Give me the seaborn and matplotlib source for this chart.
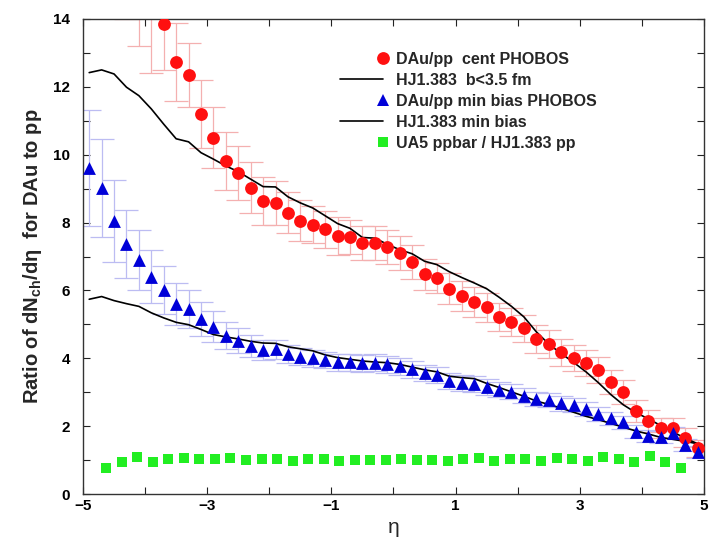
import numpy as np
import pandas as pd
import matplotlib
matplotlib.use("Agg")
import matplotlib.pyplot as plt
import seaborn as sns
from matplotlib.lines import Line2D
from matplotlib.legend_handler import HandlerLine2D

# ---------------- data ----------------
eta = [-4.9, -4.7, -4.5, -4.3, -4.1, -3.9, -3.7, -3.5, -3.3, -3.1,
       -2.9, -2.7, -2.5, -2.3, -2.1, -1.9, -1.7, -1.5, -1.3, -1.1,
       -0.9, -0.7, -0.5, -0.3, -0.1, 0.1, 0.3, 0.5, 0.7, 0.9,
       1.1, 1.3, 1.5, 1.7, 1.9, 2.1, 2.3, 2.5, 2.7, 2.9,
       3.1, 3.3, 3.5, 3.7, 3.9, 4.1, 4.3, 4.5, 4.7, 4.9]

dau_cent = [17.5, 16.9, 16.3, 15.6, 15.0, 14.4, 13.85, 12.73, 12.35, 11.2,
            10.5, 9.81, 9.47, 9.03, 8.64, 8.57, 8.29, 8.06, 7.94, 7.80,
            7.60, 7.57, 7.40, 7.40, 7.28, 7.10, 6.84, 6.47, 6.37, 6.05,
            5.84, 5.66, 5.50, 5.22, 5.07, 4.89, 4.57, 4.42, 4.18, 4.01,
            3.86, 3.65, 3.30, 3.01, 2.45, 2.15, 1.95, 1.94, 1.66, 1.35]
dau_cent_err = [2.5, 2.4, 2.2, 1.6, 1.8, 2.0, 1.35, 1.15, 0.95, 1.0,
                0.9, 0.85, 0.8, 0.75, 0.7, 0.65, 0.6, 0.6, 0.55, 0.55,
                0.55, 0.5, 0.5, 0.5, 0.5, 0.5, 0.5, 0.45, 0.45, 0.45,
                0.45, 0.45, 0.42, 0.42, 0.42, 0.4, 0.4, 0.4, 0.4, 0.38,
                0.38, 0.38, 0.36, 0.35, 0.33, 0.32, 0.3, 0.3, 0.28, 0.25]

dau_mb = [9.61, 9.02, 8.05, 7.37, 6.90, 6.40, 6.01, 5.60, 5.45, 5.16,
          4.93, 4.66, 4.52, 4.36, 4.24, 4.27, 4.13, 4.05, 4.00, 3.95,
          3.89, 3.89, 3.86, 3.87, 3.83, 3.77, 3.68, 3.56, 3.51, 3.34,
          3.27, 3.24, 3.16, 3.07, 3.02, 2.89, 2.79, 2.77, 2.67, 2.62,
          2.50, 2.36, 2.23, 2.11, 1.83, 1.71, 1.68, 1.80, 1.44, 1.24]
dau_mb_err = [1.7, 1.45, 1.2, 1.0, 0.88, 0.78, 0.7, 0.62, 0.56, 0.5,
              0.45, 0.4, 0.36, 0.33, 0.3, 0.28, 0.27, 0.26, 0.25, 0.25,
              0.25, 0.25, 0.25, 0.25, 0.25, 0.25, 0.25, 0.24, 0.24, 0.24,
              0.23, 0.23, 0.23, 0.22, 0.22, 0.22, 0.21, 0.21, 0.21, 0.2,
              0.2, 0.2, 0.2, 0.2, 0.19, 0.19, 0.19, 0.18, 0.18, 0.18]

hj_cent = [12.42, 12.50, 12.38, 11.99, 11.74, 11.35, 10.90, 10.47, 10.38, 10.06,
           9.87, 9.67, 9.50, 9.28, 9.06, 9.05, 8.76, 8.58, 8.43, 8.20,
           7.97, 7.83, 7.56, 7.54, 7.36, 7.20, 7.08, 6.86, 6.76, 6.55,
           6.38, 6.22, 6.05, 5.80, 5.53, 5.22, 4.78, 4.42, 4.14, 3.88,
           3.60, 3.28, 2.93, 2.63, 2.40, 2.22, 2.02, 1.83, 1.64, 1.48]

hj_mb = [5.74, 5.82, 5.70, 5.61, 5.53, 5.34, 5.19, 5.06, 4.99, 4.85,
         4.70, 4.63, 4.57, 4.50, 4.45, 4.44, 4.34, 4.28, 4.22, 4.10,
         4.02, 3.97, 3.92, 3.89, 3.87, 3.82, 3.74, 3.66, 3.60, 3.47,
         3.43, 3.40, 3.26, 3.14, 3.01, 2.88, 2.74, 2.64, 2.53, 2.41,
         2.29, 2.19, 2.08, 1.97, 1.86, 1.77, 1.67, 1.61, 1.55, 1.48]

eta_ua5 = [-4.625, -4.375, -4.125, -3.875, -3.625, -3.375, -3.125, -2.875,
           -2.625, -2.375, -2.125, -1.875, -1.625, -1.375, -1.125, -0.875,
           -0.625, -0.375, -0.125, 0.125, 0.375, 0.625, 0.875, 1.125,
           1.375, 1.625, 1.875, 2.125, 2.375, 2.625, 2.875, 3.125,
           3.375, 3.625, 3.875, 4.125, 4.375, 4.625]
ua5_ratio = [0.78, 0.95, 1.10, 0.95, 1.03, 1.07, 1.02, 1.03,
             1.05, 1.00, 1.02, 1.04, 0.97, 1.03, 1.02, 0.98,
             1.00, 1.01, 1.01, 1.02, 1.00, 1.00, 0.98, 1.02,
             1.05, 0.98, 1.04, 1.02, 0.98, 1.05, 1.02, 0.98,
             1.08, 1.02, 0.93, 1.12, 0.95, 0.78]

x_ticks = [-5, -4, -3, -2, -1, 0, 1, 2, 3, 4, 5]
x_ticklabels = ["\u22125", "", "\u22123", "", "\u22121", "", "1", "", "3", "", "5"]
y_ticks = list(range(0, 15))
y_ticklabels = ["0", "", "2", "", "4", "", "6", "", "8", "", "10", "", "12", "", "14"]

legend_labels = ["DAu/pp  cent PHOBOS", "HJ1.383  b<3.5 fm",
                 "DAu/pp min bias PHOBOS", "HJ1.383 min bias",
                 "UA5 ppbar / HJ1.383 pp"]

# ---------------- style ----------------
sns.set_style("ticks")
plt.rcParams["font.family"] = ["Liberation Sans", "DejaVu Sans"]
plt.rcParams["font.weight"] = "bold"
plt.rcParams["mathtext.fontset"] = "custom"
plt.rcParams["mathtext.rm"] = "Liberation Sans:bold"
plt.rcParams["mathtext.it"] = "Liberation Sans:bold"
plt.rcParams["mathtext.bf"] = "Liberation Sans:bold"

RED = "#ff1010"
BLUE = "#0000d8"
GREEN = "#22ee22"
PINK = "#f4b0b0"
LAV = "#bcbcf2"

S_RED, S_BLUE, S_GREEN = 85, 85, 52

fig = plt.figure(figsize=(7.10, 5.39), dpi=100)
ax = fig.add_axes([83 / 710, 45 / 539, 621 / 710, 475 / 539])

df = pd.DataFrame({"eta": eta, "cent": dau_cent, "cent_err": dau_cent_err,
                   "mb": dau_mb, "mb_err": dau_mb_err,
                   "hj_cent": hj_cent, "hj_mb": hj_mb})
df_ua5 = pd.DataFrame({"eta": eta_ua5, "ratio": ua5_ratio})

# error bars
ax.errorbar(df["eta"], df["cent"], yerr=df["cent_err"], fmt="none",
            ecolor=PINK, elinewidth=0.9, capsize=8.5, capthick=0.9, zorder=1)
ax.errorbar(df["eta"], df["mb"], yerr=df["mb_err"], fmt="none",
            ecolor=LAV, elinewidth=0.9, capsize=8.5, capthick=0.9, zorder=1)

# HIJING lines
sns.lineplot(data=df, x="eta", y="hj_cent", color="black", linewidth=1.2,
             sort=False, ax=ax, zorder=2, legend=False)
sns.lineplot(data=df, x="eta", y="hj_mb", color="black", linewidth=1.2,
             sort=False, ax=ax, zorder=2, legend=False)

# data points
sns.scatterplot(data=df, x="eta", y="cent", color=RED, marker="o", s=S_RED,
                linewidth=0, ax=ax, zorder=3, legend=False)
sns.scatterplot(data=df, x="eta", y="mb", color=BLUE, marker="^", s=S_BLUE,
                linewidth=0, ax=ax, zorder=3, legend=False)
sns.scatterplot(data=df_ua5, x="eta", y="ratio", color=GREEN, marker="s", s=S_GREEN,
                linewidth=0, ax=ax, zorder=3, legend=False)

ax.set_xlim(-5, 5)
ax.set_ylim(0, 14)
ax.set_xticks(x_ticks)
ax.set_xticklabels(x_ticklabels)
ax.set_yticks(y_ticks)
ax.set_yticklabels(y_ticklabels)
ax.tick_params(axis="both", direction="in", length=5, width=0.8,
               top=True, right=True, labelsize=11, colors="#222222")
ax.tick_params(axis="y", pad=9.5)
ax.tick_params(axis="x", pad=3.5)
for lab in ax.get_xticklabels() + ax.get_yticklabels():
    lab.set_fontweight("bold")
    lab.set_color("black")
for sp in ax.spines.values():
    sp.set_visible(True)
    sp.set_linewidth(1.0)
    sp.set_color("#333333")

ax.set_xlabel("\u03b7", fontsize=15, fontweight="normal", labelpad=4)
ax.set_ylabel("Ratio of dN$_{\\rm ch}$/d\u03b7  for DAu to pp", fontsize=14.5,
              fontweight="bold", labelpad=6)


class RightMarkerHandler(HandlerLine2D):
    """Legend handler that puts a marker at the right end of the handle box."""
    def create_artists(self, legend, orig_handle, xdescent, ydescent,
                       width, height, fontsize, trans):
        arts = super().create_artists(legend, orig_handle, xdescent, ydescent,
                                      width, height, fontsize, trans)
        if orig_handle.get_linestyle() in ("None", "none", "", " "):
            for a in arts:
                n = len(a.get_xdata())
                a.set_xdata([-xdescent + width] * n)
        return arts


handles = [
    Line2D([], [], linestyle="none", marker="o", markersize=np.sqrt(S_RED),
           markerfacecolor=RED, markeredgewidth=0),
    Line2D([], [], color="black", linewidth=1.2),
    Line2D([], [], linestyle="none", marker="^", markersize=np.sqrt(S_BLUE),
           markerfacecolor=BLUE, markeredgewidth=0),
    Line2D([], [], color="black", linewidth=1.2),
    Line2D([], [], linestyle="none", marker="s", markersize=np.sqrt(S_GREEN),
           markerfacecolor=GREEN, markeredgewidth=0),
]
leg = ax.legend(handles, legend_labels, loc="upper left",
                bbox_to_anchor=(0.414, 0.931), frameon=False, fontsize=11.5,
                handlelength=2.7, handletextpad=0.8, labelspacing=0.38,
                borderpad=0, borderaxespad=0, numpoints=1,
                handler_map={Line2D: RightMarkerHandler()})
for t in leg.get_texts():
    t.set_fontweight("bold")

fig.savefig("out.png", dpi=100)
